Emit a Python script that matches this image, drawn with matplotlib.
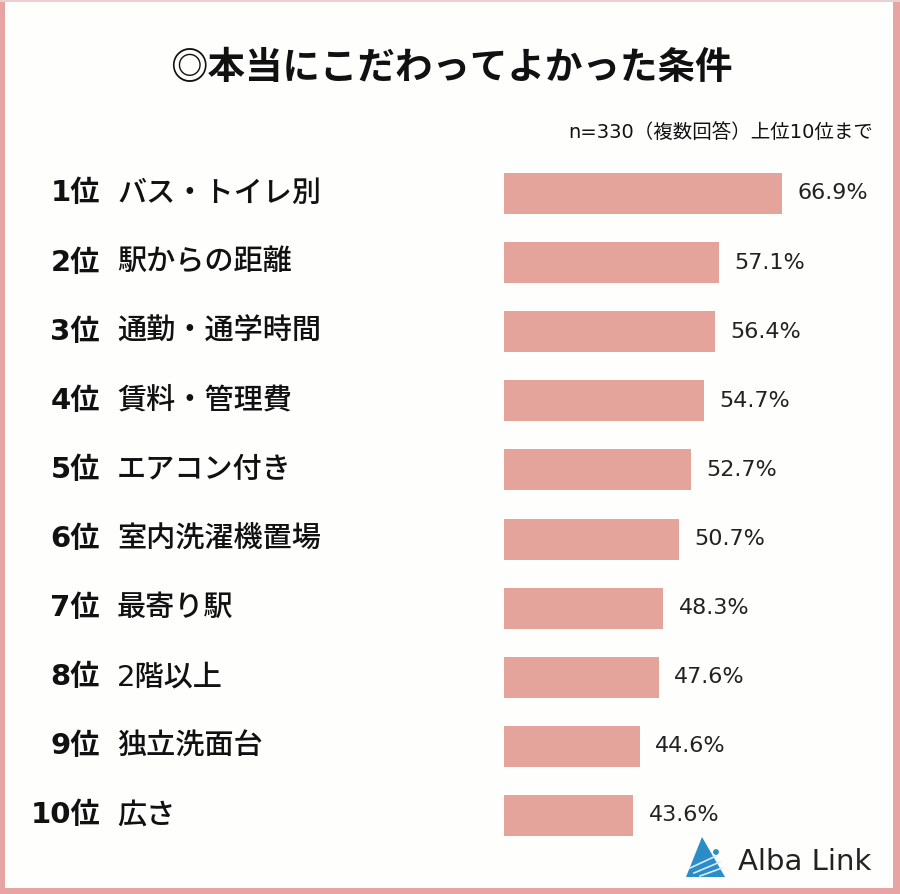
import numpy as np
import matplotlib
matplotlib.use("Agg")
import matplotlib.pyplot as plt
from matplotlib.patches import Rectangle, Polygon, Circle
from matplotlib.transforms import blended_transform_factory

plt.rcParams['font.family'] = ['Noto Sans CJK JP', 'DejaVu Sans']
LATIN = ['DejaVu Sans', 'Noto Sans CJK JP']

# データ
ranks = ["1位", "2位", "3位", "4位", "5位", "6位", "7位", "8位", "9位", "10位"]
items = ["バス・トイレ別", "駅からの距離", "通勤・通学時間", "賃料・管理費", "エアコン付き",
         "室内洗濯機置場", "最寄り駅", "2階以上", "独立洗面台", "広さ"]
values = [66.9, 57.1, 56.4, 54.7, 52.7, 50.7, 48.3, 47.6, 44.6, 43.6]

title = "◎本当にこだわってよかった条件"
subtitle = "n=330（複数回答）上位10位まで"

bar_color = "#E4A39B"
border_color = "#E8A3A3"
bg_color = "#FEFEFC"

W, H = 900, 894
fig = plt.figure(figsize=(W / 100, H / 100), dpi=100, facecolor=bg_color)

# 枠線
def px_rect(x0, y0, w, h, **kw):
    # ピクセル座標(上基準)で四角形
    fig.patches.append(Rectangle((x0 / W, 1 - (y0 + h) / H), w / W, h / H,
                                 transform=fig.transFigure, figure=fig, **kw))

px_rect(0, 0, 5, H, color=border_color, lw=0)
px_rect(W - 7, 0, 7, H, color=border_color, lw=0)
px_rect(0, H - 6, W, 6, color=border_color, lw=0)
px_rect(0, 0, W, 2, color="#EBCFCF", lw=0)

# 棒グラフ
ax = fig.add_axes([504 / W, 0.04916, (880 - 504) / W, 0.7731])
ax.set_facecolor("none")
y = np.arange(len(values))
ax.barh(y, values, height=0.593, color=bar_color)
ax.set_xlim(23.4, 82.2)
ax.set_ylim(len(values) - 0.5, -0.5)
ax.axis("off")

for yi, v in zip(y, values):
    ax.annotate(f"{v:.1f}%", (v, yi), xytext=(11, 0), textcoords="offset points",
                va="center", ha="left", fontsize=16, color="#222222", family=LATIN)

# 左のラベル
tr = blended_transform_factory(fig.transFigure, ax.transData)
for yi, r, name in zip(y, ranks, items):
    ax.text(100 / W, yi, r, transform=tr, ha="right", va="center",
            fontsize=21, fontweight="bold", color="#111111", family=LATIN)
    ax.text(117 / W, yi, name, transform=tr, ha="left", va="center",
            fontsize=21, fontweight="medium", color="#111111", family=LATIN)

# タイトル
fig.text(451 / W, 1 - 68 / H, title, ha="center", va="center",
         fontsize=27, fontweight="bold", color="#111111")
fig.text(873 / W, 1 - 132 / H, subtitle, ha="right", va="center",
         fontsize=14, color="#111111", family=LATIN)

# ロゴ
def px(x, yy):
    return (x / W, 1 - yy / H)

fig.patches.append(Polygon([px(686, 877), px(725, 877), px(702, 837)], closed=True,
                           transform=fig.transFigure, figure=fig,
                           facecolor="#2B8CC8", edgecolor="none"))
for (x0, y0, x1, y1) in [(690, 868, 716, 856), (694, 873, 720, 862), (700, 876, 722, 868)]:
    fig.lines.append(plt.Line2D([x0 / W, x1 / W], [1 - y0 / H, 1 - y1 / H],
                                transform=fig.transFigure, color="#D6ECF8", lw=1.2))
fig.patches.append(Circle(px(716, 852), 2.2 / W, transform=fig.transFigure,
                          figure=fig, color="#2B8CC8"))
fig.text(738 / W, 1 - 862 / H, "Alba Link", ha="left", va="center",
         fontsize=21, color="#222222", family=LATIN)

fig.savefig("out.png", dpi=100, facecolor=bg_color)
